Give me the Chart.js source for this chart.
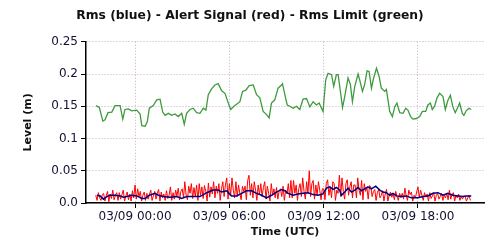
<!DOCTYPE html>
<html>
<head>
<meta charset="utf-8">
<script src="https://cdn.jsdelivr.net/npm/chart.js@4/dist/chart.umd.min.js"></script>
<style>
  body { margin: 0; background: #fff; }
</style>
</head>
<body>
<canvas id="rmsChart" width="500" height="250"></canvas>
<script>
// hours relative to 03/09 00:00 UTC (negative = 03/08)
const xTickHours = [0, 6, 12, 18];
const xTickLabels = ['03/09 00:00', '03/09 06:00', '03/09 12:00', '03/09 18:00'];
const yTickValues = [0, 0.05, 0.1, 0.15, 0.2, 0.25];
const yTickLabels = ['0.0', '0.05', '0.1', '0.15', '0.2', '0.25'];

// Rms Limit (green)
const limitHours = [-2.48, -2.27, -2.05, -1.91, -1.72, -1.48, -1.27, -0.95, -0.78, -0.64, -0.43, -0.21,
  0.11, 0.32, 0.43, 0.64, 0.78, 0.91, 1.16, 1.38, 1.59, 1.76, 1.91, 2.12, 2.33, 2.54, 2.75, 2.97,
  3.13, 3.28, 3.49, 3.70, 3.92, 4.13, 4.34, 4.51, 4.66, 4.87, 5.08, 5.29, 5.51, 5.72, 5.89,
  6.08, 6.29, 6.46, 6.67, 6.84, 7.05, 7.26, 7.52, 7.73, 7.94, 8.15, 8.37, 8.53, 8.68, 8.89, 9.10,
  9.32, 9.38, 9.53, 9.68, 9.85, 10.06, 10.27, 10.48, 10.69, 10.91, 11.12, 11.33, 11.54, 11.71, 11.96,
  12.13, 12.28, 12.50, 12.64, 12.81, 12.92, 13.02, 13.20, 13.34, 13.55, 13.70, 13.83, 13.98,
  14.19, 14.29, 14.47, 14.61, 14.76, 14.89, 15.04, 15.18, 15.36, 15.52, 15.67, 15.88, 15.99,
  16.20, 16.37, 16.52, 16.66, 16.84, 17.05, 17.22, 17.36, 17.53, 17.68, 17.90, 18.11, 18.28,
  18.49, 18.63, 18.79, 18.91, 19.06, 19.21, 19.38, 19.59, 19.74, 19.90, 20.06, 20.22, 20.37,
  20.54, 20.65, 20.82, 20.92, 21.07, 21.24, 21.39];
const limitValues = [0.151, 0.148, 0.127, 0.129, 0.140, 0.141, 0.151, 0.151, 0.130, 0.145, 0.146, 0.143,
  0.144, 0.138, 0.120, 0.119, 0.126, 0.147, 0.151, 0.160, 0.161, 0.141, 0.136, 0.139, 0.136, 0.138, 0.134, 0.139,
  0.122, 0.139, 0.145, 0.147, 0.140, 0.139, 0.147, 0.144, 0.168, 0.177, 0.183, 0.185, 0.174, 0.170, 0.158,
  0.145, 0.150, 0.153, 0.157, 0.173, 0.175, 0.182, 0.183, 0.168, 0.163, 0.142, 0.137, 0.132, 0.155, 0.160, 0.178,
  0.183, 0.185, 0.168, 0.152, 0.150, 0.147, 0.150, 0.145, 0.161, 0.162, 0.149, 0.157, 0.152, 0.155, 0.142,
  0.191, 0.201, 0.199, 0.181, 0.199, 0.199, 0.181, 0.148, 0.165, 0.194, 0.184, 0.157, 0.181,
  0.200, 0.191, 0.173, 0.184, 0.205, 0.204, 0.178, 0.194, 0.209, 0.197, 0.178, 0.173, 0.176,
  0.142, 0.134, 0.149, 0.155, 0.140, 0.139, 0.147, 0.144, 0.134, 0.130, 0.131, 0.134, 0.142,
  0.142, 0.152, 0.155, 0.145, 0.150, 0.163, 0.170, 0.165, 0.145, 0.159, 0.167, 0.149, 0.140,
  0.149, 0.155, 0.139, 0.136, 0.143, 0.147, 0.145];

// Rms (blue)
const rmsHours = [-2.43, -2.22, -2.01, -1.80, -1.59, -1.27, -0.95, -0.74, -0.53, -0.21, 0.11, 0.43, 0.64,
  0.91, 1.27, 1.48, 1.80, 2.22, 2.65, 2.97, 3.28, 3.70, 4.13, 4.56, 4.97, 5.29, 5.51, 5.83, 6.14,
  6.46, 6.78, 7.10, 7.41, 7.73, 8.05, 8.37, 8.68, 9.00, 9.32, 9.53, 9.74, 10.06, 10.37, 10.69,
  11.01, 11.33, 11.65, 11.96, 12.18, 12.39, 12.60, 12.81, 13.02, 13.13, 13.34, 13.55, 13.77,
  13.98, 14.19, 14.40, 14.61, 14.82, 15.04, 15.31, 15.57, 15.77, 15.99, 16.20, 16.41, 16.63,
  16.94, 17.26, 17.58, 18.00, 18.32, 18.63, 18.95, 19.27, 19.59, 19.90, 20.22, 20.54, 20.86,
  21.07, 21.39];
const rmsValues = [0.012, 0.011, 0.006, 0.010, 0.012, 0.012, 0.011, 0.009, 0.010, 0.012, 0.011, 0.007, 0.007,
  0.012, 0.015, 0.012, 0.010, 0.009, 0.010, 0.007, 0.010, 0.010, 0.010, 0.016, 0.020, 0.020, 0.017, 0.019, 0.011,
  0.011, 0.015, 0.019, 0.019, 0.015, 0.012, 0.008, 0.012, 0.017, 0.021, 0.019, 0.015, 0.012, 0.014, 0.015,
  0.016, 0.013, 0.012, 0.014, 0.023, 0.025, 0.021, 0.024, 0.020, 0.012, 0.017, 0.023, 0.017,
  0.020, 0.024, 0.019, 0.022, 0.025, 0.022, 0.026, 0.020, 0.017, 0.016, 0.012, 0.015, 0.011,
  0.010, 0.011, 0.008, 0.008, 0.010, 0.011, 0.015, 0.016, 0.012, 0.015, 0.012, 0.011, 0.010,
  0.011, 0.011];

// Alert Signal (red), one sample every 5 minutes from 03/08 21:30
const alertStartHour = -2.5;
const alertStepHours = 1 / 12;
const alertValues = [
  0.012, 0.004, 0.016, 0.008, 0.004, 0.013,
  0.015, 0.003, 0.011, 0.018, 0.002, 0.014, 0.007, 0.020, 0.005, 0.012, 0.016, 0.004,
  0.016, 0.006, 0.013, 0.020, 0.003, 0.011, 0.017, 0.005, 0.014, 0.003, 0.019, 0.008,
  0.028, 0.006, 0.022, 0.010, 0.018, 0.003, 0.012, 0.017, 0.004, 0.015, 0.006, 0.013,
  0.020, 0.004, 0.011, 0.018, 0.006, 0.015, 0.021, 0.003, 0.017, 0.008, 0.014, 0.004,
  0.019, 0.007, 0.012, 0.025, 0.004, 0.016, 0.006, 0.020, 0.011, 0.023, 0.005, 0.018,
  0.022, 0.008, 0.033, 0.012, 0.005, 0.026, 0.015, 0.030, 0.007, 0.024, 0.010, 0.028,
  0.004, 0.030, 0.012, 0.025, 0.007, 0.027, 0.018, 0.003, 0.031, 0.009, 0.025, 0.014,
  0.033, 0.008, 0.026, 0.015, 0.030, 0.004, 0.022, 0.033, 0.010, 0.028, 0.039, 0.006,
  0.030, 0.012, 0.039, 0.020, 0.008, 0.033, 0.010, 0.028, 0.015, 0.005, 0.026, 0.018,
  0.026, 0.005, 0.035, 0.043, 0.012, 0.030, 0.008, 0.033, 0.020, 0.004, 0.028, 0.013,
  0.030, 0.010, 0.024, 0.033, 0.006, 0.026, 0.015, 0.003, 0.030, 0.012, 0.022, 0.008,
  0.024, 0.006, 0.018, 0.022, 0.010, 0.026, 0.004, 0.020, 0.014, 0.030, 0.008, 0.035,
  0.008, 0.035, 0.015, 0.028, 0.004, 0.022, 0.030, 0.010, 0.039, 0.018, 0.006, 0.033,
  0.015, 0.050, 0.010, 0.030, 0.035, 0.006, 0.028, 0.012, 0.033, 0.020, 0.005, 0.022,
  0.022, 0.005, 0.030, 0.036, 0.012, 0.025, 0.008, 0.033, 0.030, 0.004, 0.020, 0.015,
  0.043, 0.010, 0.039, 0.018, 0.006, 0.030, 0.036, 0.012, 0.025, 0.033, 0.008, 0.028,
  0.028, 0.008, 0.039, 0.020, 0.012, 0.035, 0.005, 0.030, 0.018, 0.024, 0.006, 0.027,
  0.025, 0.010, 0.018, 0.021, 0.004, 0.016, 0.021, 0.008, 0.012, 0.019, 0.003, 0.014,
  0.021, 0.003, 0.012, 0.017, 0.009, 0.014, 0.005, 0.018, 0.010, 0.004, 0.015, 0.008,
  0.015, 0.006, 0.023, 0.011, 0.004, 0.020, 0.013, 0.017, 0.003, 0.012, 0.008, 0.017,
  0.025, 0.008, 0.020, 0.012, 0.004, 0.016, 0.009, 0.014, 0.003, 0.016, 0.007, 0.011,
  0.016, 0.003, 0.012, 0.015, 0.006, 0.010, 0.015, 0.004, 0.012, 0.008, 0.015, 0.005,
  0.020, 0.006, 0.013, 0.016, 0.003, 0.012, 0.008, 0.014, 0.004, 0.010, 0.006, 0.011,
  0.010, 0.003, 0.008, 0.012, 0.004
];

const FONT = "'DejaVu Sans', Verdana, sans-serif";
const gridColor = '#c9a9c9';

function pairs(xs, ys) {
    return ys.map((y, i) => ({ x: xs[i], y: y }));
}

const ctx = document.getElementById('rmsChart').getContext('2d');
const rmsChart = new Chart(ctx, {
    type: 'line',
    data: {
        datasets: [{
            label: 'Rms',
            data: pairs(rmsHours, rmsValues),
            borderColor: '#00007f',
            borderWidth: 1.5,
        }, {
            label: 'Alert Signal',
            data: alertValues.map((v, i) => ({ x: alertStartHour + i * alertStepHours, y: v })),
            borderColor: '#ff0000',
            borderWidth: 1,
        }, {
            label: 'Rms Limit',
            data: pairs(limitHours, limitValues),
            borderColor: '#3d9b3d',
            borderWidth: 1.3,
        }]
    },
    options: {
        responsive: false,
        animation: false,
        events: [],
        elements: { point: { radius: 0 }, line: { tension: 0 } },
        layout: { padding: 0 },
        plugins: {
            legend: { display: false },
            tooltip: { enabled: false },
            title: {
                display: true,
                text: 'Rms (blue) - Alert Signal (red) - Rms Limit (green)',
                color: '#111',
                font: { family: FONT, size: 12.3, weight: 'bold' },
                padding: { top: 8, bottom: 19 }
            }
        },
        scales: {
            x: {
                type: 'linear',
                min: -3.12,
                max: 22.2,
                afterBuildTicks: (scale) => { scale.ticks = xTickHours.map(v => ({ value: v })); },
                afterFit: (scale) => { scale.height = 47; },
                ticks: {
                    color: '#111133',
                    font: { family: FONT, size: 12 },
                    maxRotation: 0,
                    autoSkip: false,
                    padding: 2,
                    callback: (v) => xTickLabels[xTickHours.indexOf(v)]
                },
                grid: { color: gridColor, tickColor: '#000', tickLength: 5 },
                border: { color: '#000', width: 1.5, dash: [1, 2] },
                title: {
                    display: true,
                    text: 'Time (UTC)',
                    color: '#111',
                    font: { family: FONT, size: 11, weight: 'bold' },
                    padding: { top: 0, bottom: 11 }
                }
            },
            y: {
                min: 0,
                max: 0.25,
                afterBuildTicks: (scale) => { scale.ticks = yTickValues.map(v => ({ value: v })); },
                afterFit: (scale) => { scale.width = 86; },
                ticks: {
                    color: '#111133',
                    font: { family: FONT, size: 12 },
                    padding: 3,
                    callback: (v) => yTickLabels[yTickValues.indexOf(v)]
                },
                grid: { color: gridColor, tickColor: '#000', tickLength: 5 },
                border: { color: '#000', width: 1.5, dash: [1, 2] },
                title: {
                    display: true,
                    text: 'Level (m)',
                    color: '#111',
                    font: { family: FONT, size: 11, weight: 'bold' },
                    padding: { top: 22, bottom: 0 }
                }
            },
            // empty right-hand strip so the plot ends where the reference does
            spacer: {
                type: 'linear',
                position: 'right',
                min: 0,
                max: 1,
                afterFit: (scale) => { scale.width = 16; },
                ticks: { display: false },
                grid: { display: false },
                border: { display: false }
            }
        }
    }
});
</script>
</body>
</html>
